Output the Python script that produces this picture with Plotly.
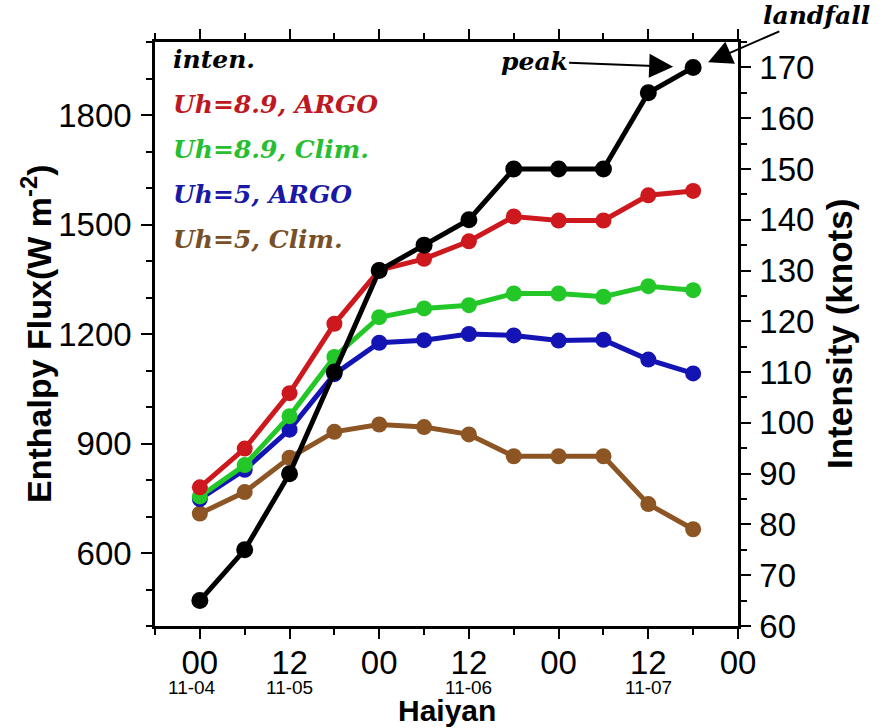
import plotly.graph_objects as go

# ---- data ----
hours = [0, 6, 12, 18, 24, 30, 36, 42, 48, 54, 60, 66]  # hours after 11-04 00
intensity_kt = [65, 75, 90, 110, 130, 135, 140, 150, 150, 150, 165, 170]
uh89_argo = [780, 886, 1038, 1228, 1375, 1406, 1454, 1522, 1511, 1511, 1580, 1592]
uh89_clim = [755, 841, 975, 1137, 1246, 1270, 1279, 1311, 1311, 1302, 1331, 1320]
uh5_argo = [748, 828, 938, 1090, 1176, 1183, 1200, 1196, 1182, 1184, 1130, 1092]
uh5_clim = [708, 767, 861, 932, 952, 945, 925, 865, 865, 865, 734, 665]

x_tickvals = [0, 12, 24, 36, 48, 60, 72]
x_ticktext = ["00", "12", "00", "12", "00", "12", "00"]
x_minorvals = [-6, 6, 18, 30, 42, 54, 66]
date_hours = [0, 12, 36, 60]
date_labels = ["11-04", "11-05", "11-06", "11-07"]

peak_hour, peak_kt = 66, 170
landfall_hour, landfall_kt = 68, 171

legend_labels = ["inten.", "Uh=8.9, ARGO", "Uh=8.9, Clim.", "Uh=5, ARGO", "Uh=5, Clim."]

RED = "rgb(205,25,30)"
GREEN = "rgb(35,200,40)"
BLUE = "rgb(20,20,180)"
BROWN = "rgb(140,85,35)"
legend_colors = ["black", "rgb(190,25,35)", "rgb(40,190,50)", "rgb(25,25,165)", "rgb(120,80,40)"]

fig = go.Figure()
for vals, col in [(uh5_clim, BROWN), (uh5_argo, BLUE), (uh89_clim, GREEN), (uh89_argo, RED)]:
    fig.add_trace(go.Scatter(x=hours, y=vals, mode="lines+markers",
                             line=dict(color=col, width=5),
                             marker=dict(color=col, size=16),
                             showlegend=False, cliponaxis=False))
fig.add_trace(go.Scatter(x=hours, y=intensity_kt, mode="lines+markers", yaxis="y2",
                         line=dict(color="black", width=5),
                         marker=dict(color="black", size=17),
                         showlegend=False, cliponaxis=False))

SANS = "Liberation Sans, Arial, sans-serif"
tickfont = dict(family=SANS, size=33, color="black")
serif = dict(family="DejaVu Serif, serif", size=25, weight="bold", style="italic")

annotations = []
for i, (lab, col) in enumerate(zip(legend_labels, legend_colors)):
    annotations.append(dict(xref="paper", yref="paper", x=0, y=1, xshift=16,
                            yshift=-17 - 45 * i, xanchor="left", yanchor="middle",
                            text=lab, showarrow=False, font=dict(serif, color=col)))
for h, lab in zip(date_hours, date_labels):
    annotations.append(dict(xref="x", yref="paper", x=h, y=0, yshift=-61,
                            xanchor="center", yanchor="middle", text=lab, showarrow=False,
                            xshift=-8 if h == 0 else 0,
                            font=dict(family=SANS, size=19, color="black")))
annotations += [
    dict(xref="paper", yref="paper", x=0.5, y=0, yshift=-84, xanchor="center", yanchor="middle",
         text="<b>Haiyan</b>", showarrow=False, font=dict(family=SANS, size=30, color="black")),
    dict(xref="paper", yref="paper", x=0, y=0.5, xshift=-119, xanchor="center", yanchor="middle",
         textangle=-90, text="<b>Enthalpy Flux(W m<sup>-2</sup>)</b>", showarrow=False,
         font=dict(family=SANS, size=34, color="black")),
    dict(xref="paper", yref="paper", x=1, y=0.5, xshift=101, xanchor="center", yanchor="middle",
         textangle=-90, text="<b>Intensity (knots)</b>", showarrow=False,
         font=dict(family=SANS, size=35, color="black")),
    dict(xref="x", yref="y2", x=peak_hour, y=peak_kt, ax=-159, ay=-6, text="peak",
         showarrow=True, arrowhead=2, arrowsize=2.4, arrowwidth=2, arrowcolor="black",
         standoff=20, font=dict(serif, color="black")),
    dict(xref="x", yref="y2", x=landfall_hour, y=landfall_kt, ax=108, ay=-47, text="landfall",
         showarrow=True, arrowhead=2, arrowsize=2.4, arrowwidth=2, arrowcolor="black",
         standoff=0, font=dict(serif, color="black")),
]

fig.update_layout(
    width=889, height=728,
    margin=dict(l=155, r=151, t=42, b=102, autoexpand=False),
    paper_bgcolor="white", plot_bgcolor="white",
    showlegend=False,
    xaxis=dict(range=[-6, 72], tickmode="array", tickvals=x_tickvals, ticktext=x_ticktext,
               showgrid=False, zeroline=False, showline=True, linecolor="black", linewidth=2.5,
               mirror="ticks", ticks="outside", ticklen=10, tickwidth=2, tickcolor="black",
               tickfont=tickfont, ticklabelstandoff=-4, automargin=False,
               minor=dict(tickmode="array", tickvals=x_minorvals, ticks="outside", ticklen=6,
                          tickwidth=2, tickcolor="black")),
    yaxis=dict(range=[400, 2000], tickmode="linear", tick0=0, dtick=300,
               showgrid=False, zeroline=False, showline=True, linecolor="black", linewidth=2.5,
               ticks="outside", ticklen=11, tickwidth=2, tickcolor="black",
               tickfont=tickfont, ticklabelstandoff=3, automargin=False,
               minor=dict(dtick=100, ticks="outside", ticklen=6, tickwidth=2, tickcolor="black")),
    yaxis2=dict(range=[60, 175], tickmode="linear", tick0=0, dtick=10, overlaying="y", side="right",
                showgrid=False, zeroline=False, showline=True, linecolor="black", linewidth=2.5,
                ticks="outside", ticklen=10, tickwidth=2, tickcolor="black",
                tickfont=tickfont, ticklabelstandoff=2, automargin=False,
                minor=dict(dtick=5, ticks="outside", ticklen=6, tickwidth=2, tickcolor="black")),
    annotations=annotations,
)

# remove the default 8px page margin so the figure fills the window exactly
fig.write_html("out.html", config={"displayModeBar": False},
               post_script="document.body.style.margin='0';document.body.style.overflow='hidden';")
